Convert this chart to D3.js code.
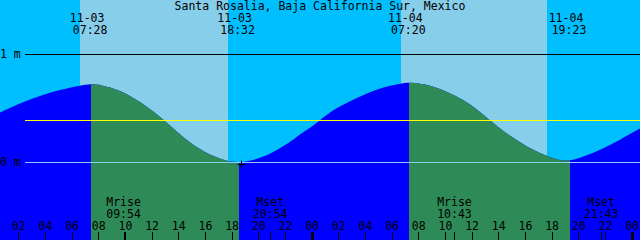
<!DOCTYPE html>
<html>
<head>
<meta charset="utf-8">
<script src="https://cdn.jsdelivr.net/npm/d3@7"></script>
<style>
  body { margin: 0; background: #fff; }
  svg { display: block; }
  text { font-family: "DejaVu Sans Mono", monospace; font-size: 11.5px; fill: #000; }
</style>
</head>
<body>
<div id="chart"></div>
<script>
// tide readings (time, metres)
var tideTimes = ["11-03 00:38","11-03 02:08","11-03 03:38","11-03 05:08","11-03 06:38","11-03 07:28",
  "11-03 08:08","11-03 09:38","11-03 11:08","11-03 12:38","11-03 13:37","11-03 14:08","11-03 15:38",
  "11-03 17:08","11-03 18:29","11-03 19:46","11-03 20:53","11-03 22:23","11-03 23:08","11-03 23:53",
  "11-04 00:38","11-04 01:37","11-04 02:53","11-04 04:10","11-04 05:22","11-04 06:38","11-04 07:23",
  "11-04 08:31","11-04 09:38","11-04 10:46","11-04 11:53","11-04 13:23","11-04 14:08","11-04 15:16",
  "11-04 16:23","11-04 17:53","11-04 19:01","11-04 20:08","11-04 21:38","11-04 23:08","11-05 00:38"];
var tideLevels = [0.463,0.549,0.620,0.672,0.713,0.727,
  0.721,0.672,0.565,0.426,0.318,0.258,0.115,
  0.030,-0.008,0.025,0.075,0.185,0.262,0.318,
  0.392,0.487,0.570,0.642,0.697,0.731,0.744,
  0.725,0.685,0.620,0.546,0.389,0.315,0.215,
  0.130,0.045,0.006,0.040,0.114,0.210,0.315];

var sunTimes = ["11-03 07:28","11-03 18:32","11-04 07:20","11-04 19:23"];
var skyBands = [["11-03 06:38","11-03 17:44"],["11-04 06:43","11-04 17:40"]];
var moonTimes = ["11-03 09:54","11-03 20:54","11-04 10:43","11-04 21:43"];
var moonKinds = ["Mrise","Mset","Mrise","Mset"];
var levelTicks = [1, 0];
var meanLevel = 0.389;
var markTime = "11-03 18:43", markLevel = -0.015;
var title = "Santa Rosalia, Baja California Sur, Mexico";
var span = ["11-03 00:38","11-05 00:38"];

(function(){
  'use strict';

  var width = 640, height = 240;
  var parse = d3.utcParse("%m-%d %H:%M");

  var x = d3.scaleUtc()
    .domain(span.map(parse))
    .range([0, width]);

  var y = d3.scaleLinear()
    .domain([0, 1])
    .range([162.5, 54.5]);

  var svg = d3.select("#chart")
    .append("svg")
    .attr("width", width)
    .attr("height", height);

  // night sky
  svg.append("rect")
    .attr("width", width)
    .attr("height", height)
    .attr("fill", "#00bfff");

  // day sky
  svg.selectAll(".day")
    .data(skyBands)
    .enter().append("rect")
    .attr("class", "day")
    .attr("shape-rendering", "crispEdges")
    .attr("x", function(d){ return Math.round(x(parse(d[0]))); })
    .attr("width", function(d){ return Math.round(x(parse(d[1]))) - Math.round(x(parse(d[0]))); })
    .attr("y", 0)
    .attr("height", height)
    .attr("fill", "#87ceeb");

  // water: area used as a clip, coloured by sun up / down
  var tide = tideTimes.map(function(t, i){ return {t: parse(t), v: tideLevels[i]}; });

  var area = d3.area()
    .x(function(d){ return x(d.t); })
    .y0(height)
    .y1(function(d){ return y(d.v); })
    .curve(d3.curveBasis);

  svg.append("clipPath")
    .attr("id", "water")
    .append("path")
    .attr("d", area(tide));

  var water = svg.append("g").attr("clip-path", "url(#water)");

  water.append("rect")
    .attr("width", width)
    .attr("height", height)
    .attr("fill", "#0000ff");

  var sunUp = [[sunTimes[0], sunTimes[1]], [sunTimes[2], sunTimes[3]]];
  water.selectAll(".up")
    .data(sunUp)
    .enter().append("rect")
    .attr("class", "up")
    .attr("shape-rendering", "crispEdges")
    .attr("x", function(d){ return Math.round(x(parse(d[0]))); })
    .attr("width", function(d){ return Math.round(x(parse(d[1]))) - Math.round(x(parse(d[0]))); })
    .attr("y", 0)
    .attr("height", height)
    .attr("fill", "#2e8b57");

  // level lines
  svg.append("line")
    .attr("x1", 25).attr("x2", width)
    .attr("y1", y(meanLevel)).attr("y2", y(meanLevel))
    .attr("stroke", "#ffff00");

  svg.selectAll(".lvl")
    .data(levelTicks)
    .enter().append("line")
    .attr("class", "lvl")
    .attr("x1", 25).attr("x2", width)
    .attr("y1", function(d){ return y(d); })
    .attr("y2", function(d){ return y(d); })
    .attr("stroke", function(d){ return d === 0 ? "#87cefa" : "#000"; });

  svg.selectAll(".lvlText")
    .data(levelTicks)
    .enter().append("text")
    .attr("class", "lvlText")
    .attr("x", 0)
    .attr("y", function(d){ return y(d) + 3.5; })
    .text(function(d){ return d + " m"; });

  // title
  svg.append("text")
    .attr("x", width / 2)
    .attr("y", 9.5)
    .attr("text-anchor", "middle")
    .text(title);

  // sun labels
  var sun = svg.selectAll(".sun")
    .data(sunTimes)
    .enter().append("g")
    .attr("class", "sun")
    .attr("transform", function(d){ return "translate(" + x(parse(d)) + ",0)"; });

  sun.append("text")
    .attr("x", -4).attr("y", 21.5)
    .attr("text-anchor", "middle")
    .text(function(d){ return d.split(" ")[0]; });

  sun.append("text")
    .attr("x", -1).attr("y", 33.5)
    .attr("text-anchor", "middle")
    .text(function(d){ return d.split(" ")[1]; });

  // moon labels
  var moon = svg.selectAll(".moon")
    .data(moonTimes)
    .enter().append("g")
    .attr("class", "moon")
    .attr("transform", function(d){ return "translate(" + x(parse(d)) + ",0)"; });

  moon.append("text")
    .attr("y", 206)
    .attr("text-anchor", "middle")
    .text(function(d, i){ return moonKinds[i]; });

  moon.append("text")
    .attr("y", 218)
    .attr("text-anchor", "middle")
    .text(function(d){ return d.split(" ")[1]; });

  // hour axis along the bottom
  var axis = svg.append("g")
    .attr("transform", "translate(0," + height + ")")
    .call(d3.axisTop(x)
      .ticks(d3.utcHour.every(2))
      .tickSize(8)
      .tickPadding(2)
      .tickFormat(d3.utcFormat("%H")));

  axis.select(".domain").remove();
  axis.attr("font-family", null).attr("font-size", null);
  axis.selectAll("line")
    .attr("shape-rendering", "crispEdges")
    .attr("stroke-width", function(d){ return d.getUTCHours() === 0 ? 3 : 1; });

  var moonAxis = svg.append("g")
    .attr("transform", "translate(0," + height + ")")
    .call(d3.axisTop(x)
      .tickValues(moonTimes.map(parse))
      .tickSize(8)
      .tickFormat(""));

  moonAxis.select(".domain").remove();
  moonAxis.selectAll("line").attr("shape-rendering", "crispEdges");

  // marker
  svg.append("path")
    .attr("transform", "translate(" + (Math.round(x(parse(markTime))) + 0.5) + "," + (Math.round(y(markLevel)) + 0.5) + ")")
    .attr("d", "M-4,0H4M0,-4V4")
    .attr("stroke", "#000")
    .attr("fill", "none");
})();
</script>
</body>
</html>
